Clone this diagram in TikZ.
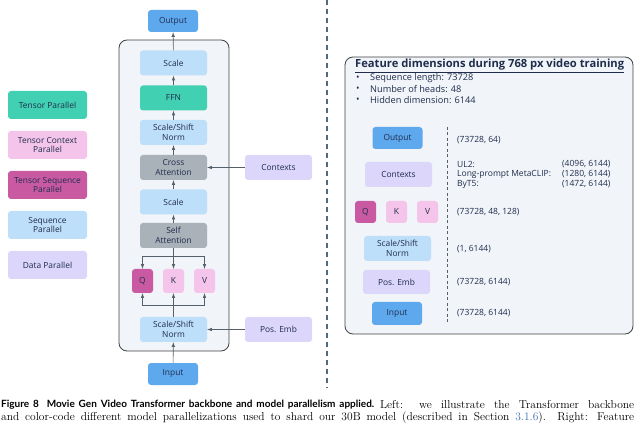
\documentclass[tikz,border=0pt]{standalone}
\usepackage{fontspec}
\newfontfamily\diagfont{Open Sans}
\newfontfamily\capfont{Lato}
\usetikzlibrary{positioning}

\definecolor{ink}{HTML}{1F2D4D}
\definecolor{iocol}{HTML}{5EA8EE}
\definecolor{ltblue}{HTML}{BEDFFA}
\definecolor{teal}{HTML}{42D0B2}
\definecolor{ltpink}{HTML}{F4C4EA}
\definecolor{magenta}{HTML}{C95AA2}
\definecolor{grey}{HTML}{A9B1B9}
\definecolor{lavender}{HTML}{DCD6FA}
\definecolor{panel}{HTML}{F1F4F8}
\definecolor{wire}{HTML}{55606B}
\definecolor{sep}{HTML}{4F6A84}
\definecolor{linkblue}{HTML}{3D6FB0}

\begin{document}
\begin{tikzpicture}[x=1pt, y=-1pt, node distance=40pt,
    font=\diagfont\fontsize{8.4}{9.6}\selectfont]
  \tikzstyle{box}=[rectangle, rounded corners=3pt, align=center, text=ink, minimum width=67pt, minimum height=25pt, inner sep=1pt]
  \tikzstyle{io}=[box, fill=iocol, minimum width=50pt, minimum height=22pt]
  \tikzstyle{legend}=[box, minimum width=79pt, minimum height=28pt]
  \tikzstyle{qkv}=[box, minimum width=21pt, minimum height=24pt]
  \tikzstyle{arr}=[-latex, draw=wire, line width=0.6pt]
  \tikzstyle{frame}=[draw=black!75, fill=panel, rounded corners=8pt, line width=0.8pt]
  \tikzstyle{dim}=[anchor=west, text=ink, inner sep=0pt, font=\diagfont\fontsize{8.5}{10}\selectfont]
  \tikzstyle{bullet}=[dim, font=\diagfont\fontsize{9.2}{11}\selectfont]
  \tikzstyle{captext}=[anchor=west, inner sep=0pt, font=\rmfamily\fontsize{11.5}{13}\selectfont]
  \useasboundingbox (0,0) rectangle (640,430);

  % legend
  \node [legend, fill=teal] at (47.5,105) (tp) {Tensor Parallel};
  \node [legend, fill=ltpink] [below of = tp] (tcp) {Tensor Context\\Parallel};
  \node [legend, fill=magenta] [below of = tcp] (tsp) {Tensor Sequence\\Parallel};
  \node [legend, fill=ltblue] [below of = tsp] (sp) {Sequence\\Parallel};
  \node [legend, fill=lavender] [below of = sp] (dp) {Data Parallel};

  % transformer block
  \draw [frame] (119,40) rectangle (229,351);
  \node [io] at (173,21) (output) {Output};
  \node [box, fill=ltblue] at (173.5,63) (scale2) {Scale};
  \node [box, fill=teal] at (173.5,98) (ffn) {FFN};
  \node [box, fill=ltblue] at (173.5,132.5) (norm2) {Scale/Shift\\Norm};
  \node [box, fill=grey] at (173.5,167.5) (ca) {Cross\\Attention};
  \node [box, fill=ltblue] at (173.5,202) (scale1) {Scale};
  \node [box, fill=grey] at (173.5,235.5) (sa) {Self\\Attention};
  \node [qkv, fill=magenta] at (142.5,281) (q) {Q};
  \node [qkv, fill=ltpink] at (173.5,281) (k) {K};
  \node [qkv, fill=ltpink] at (204.5,281) (v) {V};
  \node [box, fill=ltblue] at (173.5,329.5) (norm1) {Scale/Shift\\Norm};
  \node [io] at (173,374) (input) {Input};
  \node [box, fill=lavender] at (278.5,167.5) (ctx) {Contexts};
  \node [box, fill=lavender] at (278.5,329.5) (pos) {Pos. Emb};
  \coordinate (qkvtop) at (173.5,256);
  \coordinate (qkvbot) at (173.5,305);

  \draw[arr] (input) -- (norm1);
  \draw[arr] (pos) -- (norm1);
  \draw[arr] (norm1) -- (k);
  \draw[arr] (qkvbot) -| (q);
  \draw[arr] (qkvbot) -| (v);
  \draw[arr] (sa) -- (k);
  \draw[arr] (qkvtop) -| (q);
  \draw[arr] (qkvtop) -| (v);
  \draw[arr] (sa) -- (scale1);
  \draw[arr] (scale1) -- (ca);
  \draw[arr] (ctx) -- (ca);
  \draw[arr] (ca) -- (norm2);
  \draw[arr] (norm2) -- (ffn);
  \draw[arr] (ffn) -- (scale2);
  \draw[arr] (scale2) -- (output);

  % separator
  \draw [sep, line width=1.2pt, dash pattern=on 5pt off 4pt] (327,0) -- (327,388);

  % feature dimensions
  \draw [frame] (345,57) rectangle (633,334);
  \node [dim, font=\diagfont\bfseries\fontsize{11.2}{12}\selectfont] at (355,66) (title) {\underline{Feature dimensions during 768 px video training}};
  \node [bullet] at (356,78) (b1) {•};
  \node [bullet] at (356,89) (b2) {•};
  \node [bullet] at (356,100) (b3) {•};
  \node [bullet] at (370,78) (l1) {Sequence length: 73728};
  \node [bullet] at (370,89) (l2) {Number of heads: 48};
  \node [bullet] at (370,100) (l3) {Hidden dimension: 6144};

  \node [io] at (397.5,138) (rout) {Output};
  \node [box, fill=lavender] at (398.5,174.5) (rctx) {Contexts};
  \node [qkv, fill=magenta, minimum height=22pt] at (365.5,212) (rq) {Q};
  \node [qkv, fill=ltpink, minimum height=22pt] at (396.5,212) (rk) {K};
  \node [qkv, fill=ltpink, minimum height=22pt] at (427.5,212) (rv) {V};
  \node [box, fill=ltblue] at (397.5,248.5) (rnorm) {Scale/Shift\\Norm};
  \node [box, fill=lavender, minimum height=24pt] at (396.5,282) (rpos) {Pos. Emb};
  \node [io, minimum height=23pt] at (397,313.5) (rin) {Input};
  \draw [wire, line width=0.6pt, dash pattern=on 3pt off 2.5pt] (447,127) -- (447,322);

  \node [dim] at (457,140) (dout) {(73728, 64)};
  \node [dim] at (457,164) (dul) {UL2:};
  \node [dim] at (457,174) (dmc) {Long-prompt MetaCLIP:};
  \node [dim] at (457,184) (dby) {ByT5:};
  \node [dim] at (562,164) (vul) {(4096, 6144)};
  \node [dim] at (562,174) (vmc) {(1280, 6144)};
  \node [dim] at (562,184) (vby) {(1472, 6144)};
  \node [dim] at (457,212) (dqkv) {(73728, 48, 128)};
  \node [dim] at (457,249) (dnorm) {(1, 6144)};
  \node [dim] at (457,282) (dpos) {(73728, 6144)};
  \node [dim] at (457,313) (din) {(73728, 6144)};

  % caption
  \node [captext, font=\capfont\bfseries\fontsize{10}{12}\selectfont] at (1,405) (cap1) {\makebox[373pt][s]{Figure 8\hspace{4pt} Movie Gen Video Transformer backbone and model parallelism applied.}};
  \node [captext] at (380,405) (cap1b) {\makebox[254pt][s]{Left: we illustrate the Transformer backbone}};
  \node [captext] at (1,418) (cap2) {\makebox[633pt][s]{and color-code different model parallelizations used to shard our 30B model (described in Section \textcolor{linkblue}{3.1.6}). Right: Feature}};
\end{tikzpicture}
\end{document}
